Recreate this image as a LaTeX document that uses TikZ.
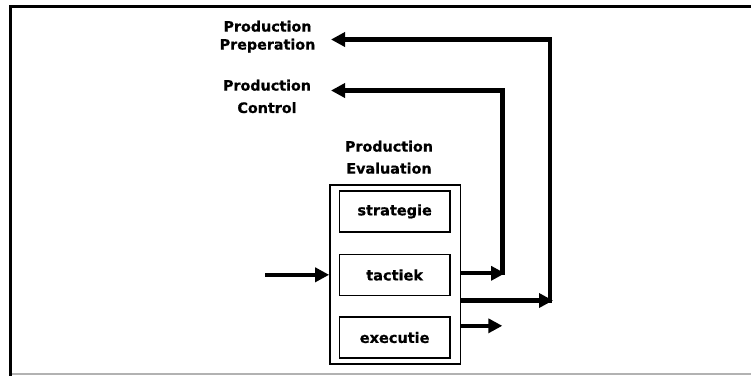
\documentclass[tikz,border=0pt]{standalone}
\usepackage{fontspec}
\setmainfont{DejaVu Sans}
\newfontfamily\heavy{DejaVu Sans Bold}[FakeBold=0.8]
\usetikzlibrary{arrows.meta}
\begin{document}
\begin{tikzpicture}[x=1pt,y=-1pt,
  flow/.style={line width=4.3pt, line join=miter, -{Triangle[length=14pt,width=14pt]}},
  level/.style={draw, line width=1.7pt, minimum width=110.3pt, minimum height=41pt,
    inner sep=0pt, font=\fontsize{14.5}{17}\selectfont\heavy},
  caption/.style={anchor=north, inner sep=0pt, align=center}
]
\useasboundingbox (0,0) rectangle (751,376);

% page frame
\draw[line width=3.5pt, line join=miter] (751,6.5) -- (10.5,6.5) -- (10.5,376);
\draw[line width=1.5pt, black!30] (12,374) -- (751,374);

% production evaluation block with its three levels
\node[draw, line width=1.7pt, minimum width=130.5pt, minimum height=179pt, inner sep=0pt]
  (eval) at (395.25,274.5) {};
\node[level] (strat) at (394.65,211.4) {strategie};
\node[level] (tact)  at (394.65,275)   {tactiek};
\node[level] (exec)  at (394.65,337.5) {executie};

% labels
\node[caption, font=\fontsize{14.3}{18}\selectfont\heavy] (prep) at (267.5,20.5)
  {Production\\Preperation};
\node[caption, font=\fontsize{14.3}{22.4}\selectfont\heavy] (ctl) at (267,79.5)
  {Production\\Control};
\node[caption, font=\fontsize{14.3}{22}\selectfont\heavy] (evl) at (389,140.5)
  {Production\\Evaluation};

% arrow end points and risers
\coordinate (inL)    at (265,274.8);
\coordinate (tip1)   at (505,273.3);
\coordinate (j1)     at (502.5,275.45);
\coordinate (ctlin)  at (331,90.5);
\coordinate (tip2)   at (553,300.5);
\coordinate (j2)     at (550.2,302.65);
\coordinate (prepin) at (331,39.5);
\coordinate (tip3)   at (502.3,325.8);

% input
\draw[flow] (inL) -- (eval.west |- inL);

% feedback to production control
\draw[flow] (eval.east |- tip1) -- (tip1);
\draw[flow] (j1) |- (ctlin);

% feedback to production preparation
\draw[flow] (eval.east |- tip2) -- (tip2);
\draw[flow] (j2) |- (prepin);

% output
\draw[flow] (eval.east |- tip3) -- (tip3);
\end{tikzpicture}
\end{document}
